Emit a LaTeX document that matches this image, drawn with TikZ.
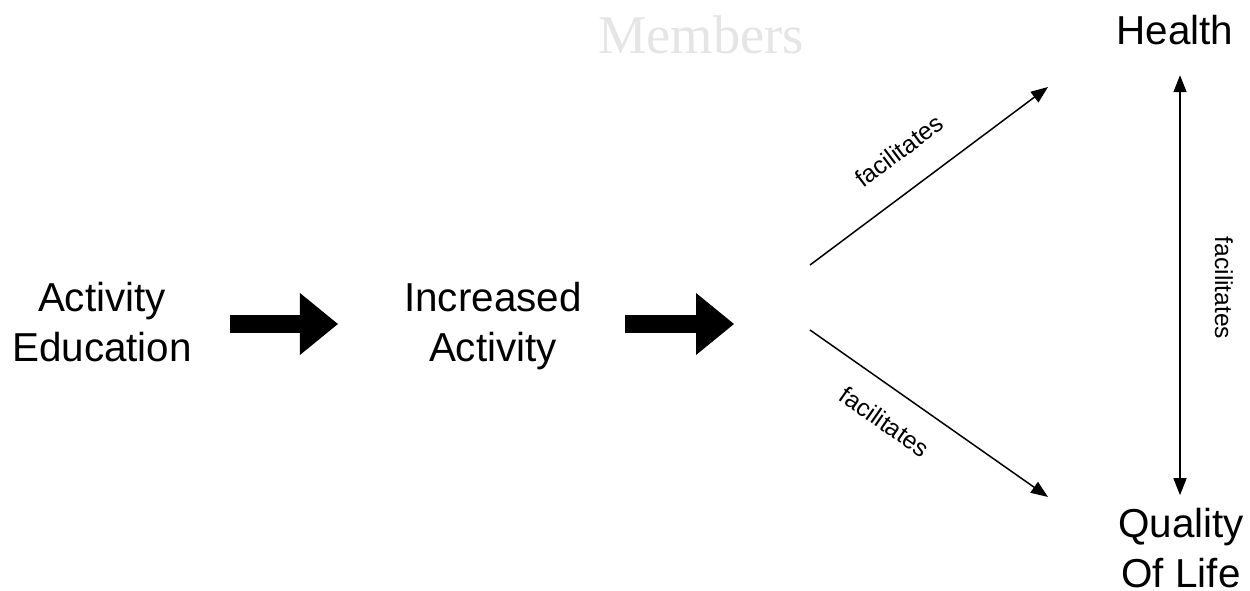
\documentclass[tikz,border=0pt]{standalone}
\usepackage{fontspec}
\setmainfont{Liberation Sans}
\newfontfamily\serifmembers{Liberation Serif}
\usetikzlibrary{arrows.meta,positioning,calc}

\begin{document}
\begin{tikzpicture}[x=0.02cm, y=-0.02cm,
  every node/.style={inner sep=0pt},
  bigtext/.style={font=\fontsize{23}{28}\selectfont, align=center},
  smalltext/.style={font=\fontsize{14}{16}\selectfont},
  fatarrow/.style={line width=0.36cm, -{Triangle[length=0.76cm, width=1.24cm, line width=0pt]}},
  thinarrow/.style={line width=0.85pt, -{Triangle[length=0.34cm, width=0.26cm]}}]
\useasboundingbox (0,0) rectangle (1250,591);
\node[font=\serifmembers\fontsize{31}{31}\selectfont, text=black!10] (members) at (701,35) {Members};
\node[bigtext] (edu)    at (102,322) {Activity\\Education};
\node[bigtext] (incr)   at (493,326) {Increased\\Activity};
\node[bigtext] (health) at (1175,30)  {Health};
\node[bigtext] (qol)    at (1181,548) {Quality\\Of Life};
\coordinate (hub)  at (734,324);
\coordinate (up)   at (810,265);
\coordinate (down) at (810,330);
\coordinate (hend) at (1048,87);
\coordinate (qend) at (1048,497);
% thick arrows
\draw[fatarrow, shorten <=0.76cm] (edu.east |- hub) -- ($(incr.west |- hub)+(-66,0)$);
\draw[fatarrow, shorten <=0.86cm] (incr.east |- hub) -- (hub);
% facilitates
\draw[thinarrow] (up) -- (hend);
\draw[thinarrow] (down) -- (qend);
\draw[line width=0.85pt, {Triangle[length=0.34cm, width=0.26cm]}-{Triangle[length=0.34cm, width=0.26cm]}]
  ($(health.south -| 1180,0)+(0,30)$) -- ($(qol.north -| 1180,0)+(0,-13)$);
\node[smalltext, rotate=37]  (lab1) at (899,151) {facilitates};
\node[smalltext, rotate=-35] (lab2) at (885,422) {facilitates};
\node[smalltext, rotate=-90] (lab3) at (1224,288) {facilitates};
\end{tikzpicture}
\end{document}
